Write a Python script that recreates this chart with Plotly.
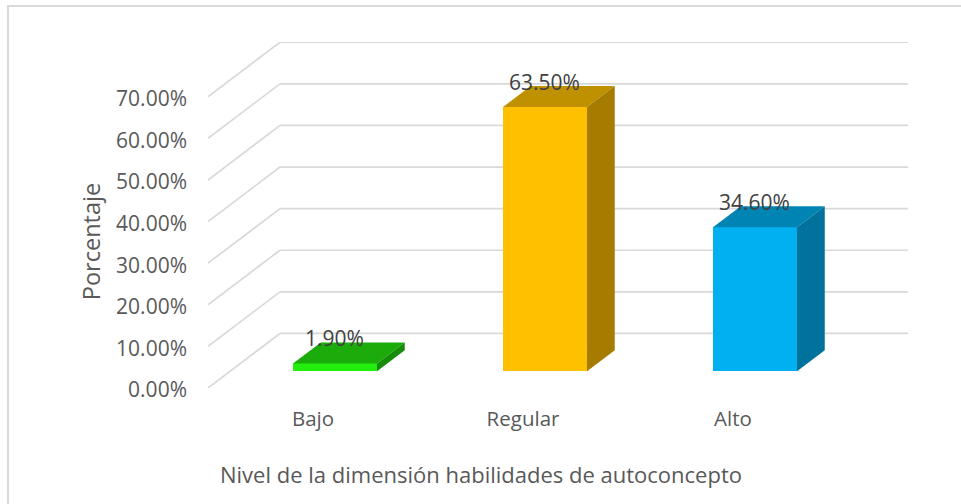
import plotly.graph_objects as go

categories = ["Bajo", "Regular", "Alto"]
values = [1.9, 63.5, 34.6]
labels = ["1.90%", "63.50%", "34.60%"]
tick_values = [0, 10, 20, 30, 40, 50, 60, 70]
tick_labels = ["0.00%", "10.00%", "20.00%", "30.00%", "40.00%", "50.00%", "60.00%", "70.00%"]
front_colors = ["#23EE0E", "#FFC000", "#00B0F0"]
top_colors = ["#1BAB0B", "#BF9000", "#0084B4"]
side_colors = ["#168C09", "#A67C00", "#00729C"]
x_title = "Nivel de la dimensión habilidades de autoconcepto"
y_title = "Porcentaje"

# oblique projection of the floor depth onto the axes' own units
W, H = 961, 504
L, R, T, B = 208, 908, 42, 387.7
CAT_PX = 210
PCT_PX = 4.157
DEPTH_X = 72 / CAT_PX
DEPTH_Y = 54.5 / PCT_PX
D0, D1 = 0.306, 0.691
BAR_W = 0.4
X_MAX = (R - L) / CAT_PX
Y_MAX = (B - T) / PCT_PX


def px(x):
    return (x - L) / (R - L)


def py(y):
    return (B - y) / (B - T)


FONT = "Open Sans"
fig = go.Figure()
shapes = []
for t in tick_values:
    shapes.append(dict(type="line", xref="x", yref="y", layer="below", x0=0, y0=t,
                       x1=DEPTH_X, y1=t + DEPTH_Y, line=dict(color="#D9D9D9", width=1.7)))
    shapes.append(dict(type="line", xref="x", yref="y", layer="below", x0=DEPTH_X, y0=t + DEPTH_Y,
                       x1=X_MAX, y1=t + DEPTH_Y, line=dict(color="#D9D9D9", width=1.7)))
# outer frame: top and left edges only are visible
shapes.append(dict(type="line", xref="paper", yref="paper", x0=px(8), y0=py(6), x1=px(W), y1=py(6),
                   line=dict(color="#D9D9D9", width=2)))
shapes.append(dict(type="line", xref="paper", yref="paper", x0=px(8), y0=py(5), x1=px(8), y1=py(H),
                   line=dict(color="#D9D9D9", width=2)))

centers = [i + 0.5 + DEPTH_X * D0 for i in range(len(values))]
base = DEPTH_Y * D0
fig.add_trace(go.Bar(x=centers, y=values, base=[base] * 3, width=BAR_W,
                     marker=dict(color=front_colors, line=dict(width=0)),
                     hoverinfo="skip", showlegend=False))

ddx = DEPTH_X * (D1 - D0)
ddy = DEPTH_Y * (D1 - D0)
for c, v, tc, sc in zip(centers, values, top_colors, side_colors):
    l, r = c - BAR_W / 2, c + BAR_W / 2
    b, t = base, base + v
    fig.add_trace(go.Scatter(x=[l, r, r + ddx, l + ddx, l], y=[t, t, t + ddy, t + ddy, t],
                             mode="lines", fill="toself", fillcolor=tc, line=dict(width=0),
                             hoverinfo="skip", showlegend=False))
    fig.add_trace(go.Scatter(x=[r, r + ddx, r + ddx, r, r], y=[b, b + ddy, t + ddy, t, b],
                             mode="lines", fill="toself", fillcolor=sc, line=dict(width=0),
                             hoverinfo="skip", showlegend=False))

annotations = [dict(x=c, y=base + v, xref="x", yref="y", text=lab, showarrow=False, yshift=25, xshift=-1,
                    xanchor="center", yanchor="middle",
                    font=dict(family=FONT, size=21, color="#404040"))
               for c, v, lab in zip(centers, values, labels)]
annotations.append(dict(x=px(481), y=py(473.5), xref="paper", yref="paper", text=x_title, showarrow=False,
                        xanchor="center", yanchor="middle",
                        font=dict(family=FONT, size=22, color="#595959")))
annotations.append(dict(x=px(91), y=py(242), xref="paper", yref="paper", text=y_title, showarrow=False,
                        xanchor="center", yanchor="middle",
                        textangle=-90, font=dict(family=FONT, size=23.5, color="#595959")))
fig.update_layout(
    width=W, height=H, autosize=False,
    margin=dict(l=L, r=W - R, t=T, b=H - B),
    paper_bgcolor="white", plot_bgcolor="white",
    bargap=0, showlegend=False,
    annotations=annotations, shapes=shapes,
    font=dict(family=FONT, color="#595959", size=18),
    xaxis=dict(range=[0, X_MAX], tickvals=[i + 0.5 for i in range(3)], ticktext=categories,
               showgrid=False, zeroline=False, showline=False, ticks="",
               ticklabelstandoff=16,
               tickfont=dict(family=FONT, size=20.5, color="#595959")),
    yaxis=dict(range=[0, Y_MAX], tickvals=tick_values, ticktext=tick_labels,
               showgrid=False, zeroline=False, showline=False, ticks="",
               ticklabelstandoff=20, ticklabelshift=2,
               tickfont=dict(family=FONT, size=21, color="#595959")),
)
fig.write_html("out.html", post_script="document.body.style.margin='0';",
               config={"displayModeBar": False})
